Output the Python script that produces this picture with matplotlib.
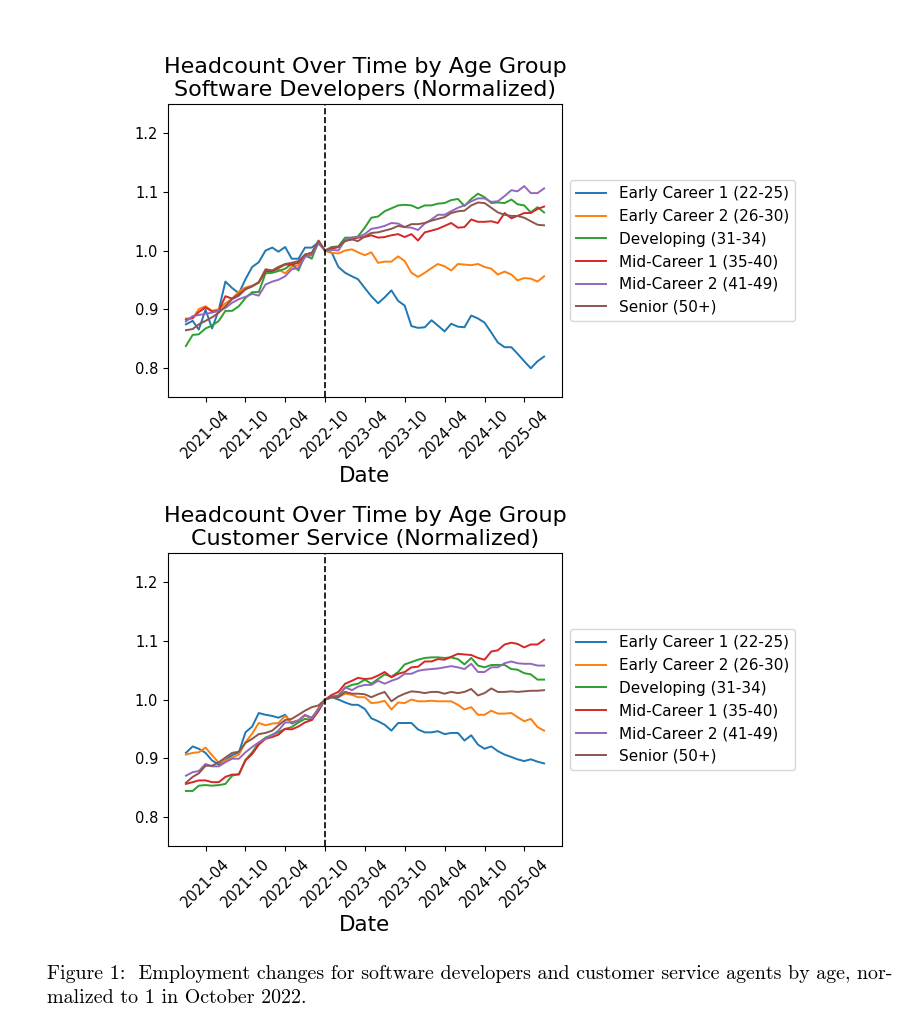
import numpy as np
import pandas as pd
import matplotlib
matplotlib.use("Agg")
import matplotlib.pyplot as plt
import matplotlib.dates as mdates

# monthly dates, Jan 2021 .. Jul 2025
dates = pd.date_range("2021-01-01", "2025-07-01", freq="MS")
cutoff = pd.Timestamp("2022-10-01")

labels = ["Early Career 1 (22-25)", "Early Career 2 (26-30)", "Developing (31-34)",
          "Mid-Career 1 (35-40)", "Mid-Career 2 (41-49)", "Senior (50+)"]

# software developers
sw_early1 = [0.874, 0.880, 0.865, 0.899, 0.867, 0.899, 0.947, 0.936, 0.927, 0.951, 0.972, 0.980, 1.000, 1.005, 0.998, 1.006, 0.986, 0.986, 1.005, 1.005, 1.014, 1.000,
             0.996, 0.972, 0.962, 0.956, 0.951, 0.936, 0.922, 0.910, 0.920, 0.932, 0.914, 0.906, 0.871, 0.868, 0.869, 0.881, 0.872, 0.862, 0.875, 0.870, 0.869, 0.889, 0.884, 0.877, 0.860, 0.843, 0.835, 0.835, 0.824, 0.811, 0.799, 0.811, 0.819]
sw_early2 = [0.884, 0.884, 0.900, 0.905, 0.897, 0.900, 0.910, 0.918, 0.930, 0.937, 0.940, 0.946, 0.963, 0.965, 0.968, 0.961, 0.972, 0.975, 0.990, 0.993, 1.012, 1.000,
             0.996, 0.995, 1.000, 1.002, 0.997, 0.992, 0.997, 0.979, 0.981, 0.981, 0.990, 0.982, 0.962, 0.955, 0.962, 0.970, 0.977, 0.973, 0.966, 0.977, 0.976, 0.975, 0.977, 0.972, 0.969, 0.959, 0.964, 0.959, 0.949, 0.953, 0.952, 0.947, 0.956]
sw_dev = [0.837, 0.856, 0.857, 0.867, 0.872, 0.880, 0.897, 0.897, 0.905, 0.919, 0.929, 0.929, 0.961, 0.962, 0.965, 0.969, 0.977, 0.966, 0.992, 0.986, 1.016, 1.000,
          1.006, 1.007, 1.022, 1.022, 1.024, 1.039, 1.056, 1.058, 1.067, 1.072, 1.077, 1.078, 1.077, 1.072, 1.077, 1.077, 1.080, 1.081, 1.086, 1.088, 1.076, 1.088, 1.097, 1.091, 1.081, 1.082, 1.081, 1.087, 1.079, 1.077, 1.065, 1.074, 1.065]
sw_mid1 = [0.882, 0.885, 0.895, 0.903, 0.896, 0.897, 0.922, 0.918, 0.925, 0.934, 0.939, 0.945, 0.965, 0.965, 0.970, 0.976, 0.976, 0.979, 0.993, 0.996, 1.014, 1.000,
           1.003, 1.006, 1.017, 1.019, 1.022, 1.023, 1.026, 1.022, 1.023, 1.026, 1.028, 1.023, 1.028, 1.017, 1.031, 1.034, 1.037, 1.042, 1.047, 1.039, 1.040, 1.053, 1.049, 1.049, 1.050, 1.047, 1.064, 1.055, 1.059, 1.064, 1.064, 1.071, 1.075]
sw_mid2 = [0.879, 0.888, 0.890, 0.892, 0.894, 0.897, 0.902, 0.911, 0.917, 0.921, 0.926, 0.923, 0.942, 0.947, 0.950, 0.956, 0.968, 0.970, 0.989, 0.992, 1.013, 1.000,
           1.001, 1.000, 1.018, 1.022, 1.023, 1.028, 1.037, 1.039, 1.042, 1.047, 1.046, 1.040, 1.039, 1.035, 1.046, 1.053, 1.061, 1.061, 1.067, 1.073, 1.077, 1.084, 1.089, 1.089, 1.083, 1.084, 1.093, 1.103, 1.101, 1.110, 1.098, 1.098, 1.106]
sw_senior = [0.864, 0.866, 0.874, 0.880, 0.886, 0.894, 0.905, 0.917, 0.923, 0.934, 0.939, 0.946, 0.968, 0.966, 0.972, 0.977, 0.979, 0.982, 0.993, 0.996, 1.017, 1.000,
             1.005, 1.006, 1.016, 1.019, 1.016, 1.024, 1.030, 1.031, 1.034, 1.037, 1.042, 1.040, 1.045, 1.045, 1.047, 1.051, 1.054, 1.057, 1.064, 1.067, 1.068, 1.077, 1.082, 1.081, 1.073, 1.065, 1.061, 1.059, 1.059, 1.056, 1.050, 1.044, 1.043]

# customer service
cs_early1 = [0.909, 0.920, 0.916, 0.909, 0.896, 0.889, 0.897, 0.905, 0.910, 0.944, 0.954, 0.977, 0.974, 0.972, 0.969, 0.974, 0.959, 0.964, 0.973, 0.969, 0.984, 1.000,
             1.004, 1.000, 0.995, 0.991, 0.991, 0.984, 0.968, 0.963, 0.957, 0.947, 0.960, 0.960, 0.960, 0.949, 0.944, 0.944, 0.946, 0.941, 0.943, 0.943, 0.930, 0.939, 0.923, 0.916, 0.920, 0.912, 0.906, 0.902, 0.898, 0.895, 0.898, 0.894, 0.891]
cs_early2 = [0.906, 0.909, 0.910, 0.918, 0.905, 0.892, 0.896, 0.901, 0.906, 0.927, 0.942, 0.960, 0.956, 0.959, 0.960, 0.972, 0.961, 0.965, 0.973, 0.967, 0.986, 1.000,
             1.004, 1.004, 1.010, 1.008, 1.004, 1.004, 0.994, 0.995, 0.998, 0.983, 0.995, 0.994, 1.000, 0.997, 0.997, 0.998, 0.997, 0.997, 0.997, 0.991, 0.983, 0.987, 0.974, 0.974, 0.981, 0.976, 0.976, 0.977, 0.970, 0.963, 0.967, 0.953, 0.947]
cs_dev = [0.844, 0.844, 0.853, 0.854, 0.853, 0.854, 0.856, 0.870, 0.873, 0.897, 0.910, 0.926, 0.935, 0.940, 0.944, 0.950, 0.953, 0.961, 0.967, 0.965, 0.981, 1.000,
          1.005, 1.007, 1.020, 1.025, 1.027, 1.034, 1.027, 1.035, 1.043, 1.039, 1.047, 1.060, 1.064, 1.068, 1.071, 1.072, 1.072, 1.071, 1.072, 1.069, 1.060, 1.071, 1.058, 1.055, 1.059, 1.059, 1.059, 1.052, 1.051, 1.045, 1.043, 1.034, 1.034]
cs_mid1 = [0.856, 0.859, 0.862, 0.862, 0.859, 0.859, 0.868, 0.872, 0.872, 0.896, 0.907, 0.923, 0.933, 0.936, 0.940, 0.950, 0.949, 0.954, 0.961, 0.965, 0.981, 1.000,
           1.008, 1.013, 1.027, 1.032, 1.037, 1.035, 1.036, 1.041, 1.047, 1.038, 1.044, 1.047, 1.055, 1.056, 1.065, 1.065, 1.069, 1.068, 1.073, 1.078, 1.077, 1.076, 1.071, 1.068, 1.082, 1.084, 1.094, 1.097, 1.095, 1.089, 1.094, 1.094, 1.102]
cs_mid2 = [0.870, 0.876, 0.878, 0.890, 0.886, 0.886, 0.893, 0.899, 0.899, 0.910, 0.919, 0.927, 0.933, 0.939, 0.947, 0.961, 0.961, 0.964, 0.974, 0.968, 0.984, 1.000,
           1.004, 1.004, 1.021, 1.016, 1.022, 1.025, 1.025, 1.032, 1.027, 1.032, 1.036, 1.044, 1.044, 1.049, 1.051, 1.052, 1.053, 1.055, 1.057, 1.055, 1.052, 1.061, 1.047, 1.047, 1.055, 1.055, 1.062, 1.065, 1.062, 1.061, 1.061, 1.058, 1.058]
cs_senior = [0.858, 0.868, 0.874, 0.887, 0.887, 0.893, 0.901, 0.909, 0.911, 0.926, 0.933, 0.941, 0.943, 0.947, 0.956, 0.965, 0.967, 0.974, 0.981, 0.987, 0.990, 1.000,
             1.004, 1.004, 1.013, 1.010, 1.010, 1.009, 1.004, 1.009, 1.013, 0.997, 1.005, 1.010, 1.014, 1.013, 1.011, 1.013, 1.013, 1.010, 1.013, 1.011, 1.013, 1.018, 1.007, 1.011, 1.019, 1.013, 1.013, 1.014, 1.013, 1.014, 1.015, 1.015, 1.016]

sw_series = [sw_early1, sw_early2, sw_dev, sw_mid1, sw_mid2, sw_senior]
cs_series = [cs_early1, cs_early2, cs_dev, cs_mid1, cs_mid2, cs_senior]

fig = plt.figure(figsize=(9.21, 10.24), dpi=100)


def draw_panel(rect, series, title):
    ax = fig.add_axes(rect)
    for vals, lab in zip(series, labels):
        ax.plot(dates, vals, label=lab, linewidth=1.4)
    ax.axvline(cutoff, color="black", linestyle="--", linewidth=1.2)
    ax.set_ylim(0.75, 1.25)
    ax.set_yticks([0.8, 0.9, 1.0, 1.1, 1.2])
    ax.xaxis.set_major_locator(mdates.MonthLocator(bymonth=[4, 10]))
    ax.xaxis.set_major_formatter(mdates.DateFormatter("%Y-%m"))
    ax.tick_params(axis="both", labelsize=10.5)
    plt.setp(ax.get_xticklabels(), rotation=45)
    ax.set_xlabel("Date", fontsize=15.5)
    ax.set_title(title, fontsize=16)
    ax.legend(loc="center left", bbox_to_anchor=(1.0, 0.5), fontsize=11)
    return ax


draw_panel([0.1824, 0.6123, 0.4278, 0.2861], sw_series,
           "Headcount Over Time by Age Group\nSoftware Developers (Normalized)")
draw_panel([0.1824, 0.1738, 0.4278, 0.2861], cs_series,
           "Headcount Over Time by Age Group\nCustomer Service (Normalized)")

# caption, LaTeX-like serif
fig.text(47 / 921, 1 - 979 / 1024,
         "Figure 1:  Employment changes for software developers and customer service agents by age, nor-",
         family="cmr10", fontsize=14.4, va="baseline")
fig.text(47 / 921, 1 - 1003 / 1024, "malized to 1 in October 2022.",
         family="cmr10", fontsize=14.4, va="baseline")

fig.savefig("out.png", dpi=100)
